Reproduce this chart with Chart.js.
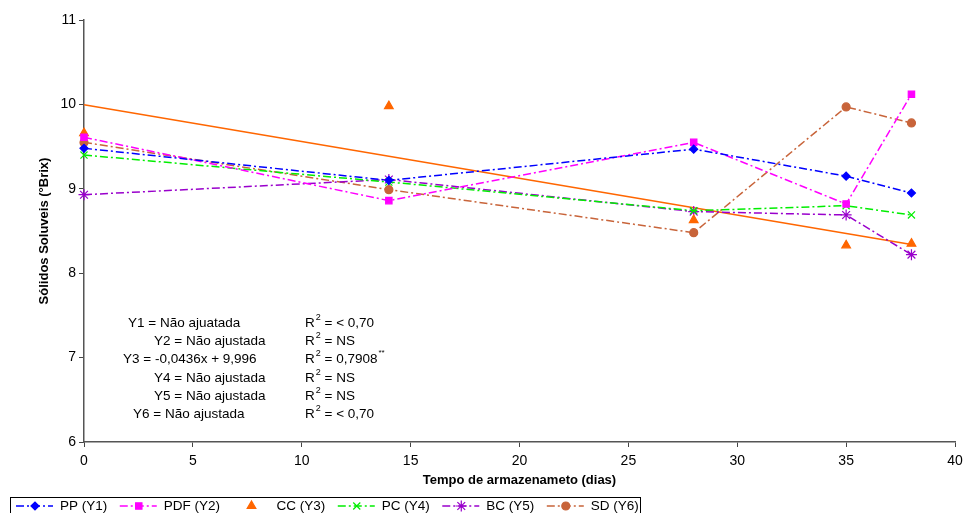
<!DOCTYPE html>
<html>
<head>
<meta charset="utf-8">
<script src="https://cdn.jsdelivr.net/npm/chart.js@4"></script>
<style>
  body { margin: 0; background: #fff; }
  #wrap { width: 963px; height: 513px; }
</style>
</head>
<body>
<div id="wrap"><canvas id="brixChart" width="963" height="513"></canvas></div>
<script>
// storage days and soluble solids (°Brix)
var days = [0, 14, 28, 35, 38];
var ppY1 = [9.48, 9.10, 9.47, 9.15, 8.95];
var pdfY2 = [9.61, 8.86, 9.55, 8.82, 10.12];
var ccY3 = [9.66, 9.98, 8.63, 8.33, 8.35];
var pcY4 = [9.40, 9.08, 8.74, 8.80, 8.69];
var bcY5 = [8.93, 9.11, 8.73, 8.69, 8.22];
var sdY6 = [9.55, 8.99, 8.48, 9.97, 9.78];
// fitted line for CC (Y3 = -0,0436x + 9,996)
var trendDays = [0, 38];
var trendY3 = [9.996, 8.339];

var seriesLabels = ['PP (Y1)', 'PDF (Y2)', 'CC (Y3)', 'PC (Y4)', 'BC (Y5)', 'SD (Y6)'];

var eqLeft = ['Y1 = Não ajuatada', 'Y2 = Não ajustada', 'Y3 = -0,0436x + 9,996',
              'Y4 = Não ajustada', 'Y5 = Não ajustada', 'Y6 = Não ajustada'];
var eqRight = [' = < 0,70', ' = NS', ' = 0,7908', ' = NS', ' = NS', ' = < 0,70'];
var eqStars = ['', '', '**', '', '', ''];

function pts(xs, ys) {
  return xs.map(function (x, i) { return { x: x, y: ys[i] }; });
}

var dashDot = [8, 3, 2, 3];

var series = [
  { label: seriesLabels[0], data: pts(days, ppY1), color: '#0000ff', style: 'rectRot', r: 4, line: true },
  { label: seriesLabels[1], data: pts(days, pdfY2), color: '#ff00ff', style: 'rect', r: 4.5, line: true },
  { label: seriesLabels[2], data: pts(days, ccY3), color: '#ff6600', style: 'triangle', r: 5, line: false },
  { label: seriesLabels[3], data: pts(days, pcY4), color: '#00ee00', style: 'crossRot', r: 5, line: true },
  { label: seriesLabels[4], data: pts(days, bcY5), color: '#9900cc', style: 'star', r: 5.5, line: true },
  { label: seriesLabels[5], data: pts(days, sdY6), color: '#c8643a', style: 'circle', r: 4, line: true }
];

var datasets = series.map(function (s) {
  return {
    label: s.label,
    data: s.data,
    showLine: s.line,
    clip: false,
    borderColor: s.color,
    backgroundColor: s.color,
    borderWidth: 1.5,
    borderDash: dashDot,
    pointStyle: s.style,
    pointRadius: s.r,
    pointHoverRadius: s.r,
    pointBorderWidth: 1.2,
    pointBorderColor: s.color,
    pointBackgroundColor: s.color
  };
});

datasets.push({
  label: 'trend',
  data: pts(trendDays, trendY3),
  showLine: true,
  clip: false,
  borderColor: '#ff6600',
  borderWidth: 1.5,
  pointRadius: 0,
  pointHoverRadius: 0
});

var notesPlugin = {
  id: 'notes',
  afterDraw: function (chart) {
    var ctx = chart.ctx;
    ctx.save();
    ctx.fillStyle = '#000';
    ctx.textBaseline = 'middle';
    ctx.textAlign = 'left';

    // equations block
    var leftX = [128, 154, 123, 154, 154, 133];
    var rowY = [323, 341, 359, 378, 396, 414];
    for (var i = 0; i < eqLeft.length; i++) {
      ctx.font = '13.5px "Liberation Sans", Arial, sans-serif';
      ctx.fillText(eqLeft[i], leftX[i], rowY[i]);
      var x = 305;
      ctx.fillText('R', x, rowY[i]);
      x += ctx.measureText('R').width + 1;
      ctx.font = '9px "Liberation Sans", Arial, sans-serif';
      ctx.fillText('2', x, rowY[i] - 5);
      x += ctx.measureText('2').width;
      ctx.font = '13.5px "Liberation Sans", Arial, sans-serif';
      ctx.fillText(eqRight[i], x, rowY[i]);
      if (eqStars[i]) {
        x += ctx.measureText(eqRight[i]).width + 1;
        ctx.font = '8px "Liberation Sans", Arial, sans-serif';
        ctx.fillText(eqStars[i], x, rowY[i] - 6);
      }
    }

    // legend box at the bottom
    var boxTop = 497;
    ctx.strokeStyle = '#000';
    ctx.lineWidth = 1;
    ctx.strokeRect(10.5, boxTop + 0.5, 630, 22);
    var ly = boxTop + 9;
    var lx = 16;
    ctx.font = '13.5px "Liberation Sans", Arial, sans-serif';
    series.forEach(function (s) {
      ctx.strokeStyle = s.color;
      ctx.fillStyle = s.color;
      if (s.line) {
        ctx.lineWidth = 1.5;
        ctx.setLineDash(dashDot);
        ctx.beginPath();
        ctx.moveTo(lx, ly);
        ctx.lineTo(lx + 37, ly);
        ctx.stroke();
        ctx.setLineDash([]);
      }
      ctx.lineWidth = 1.2;
      Chart.helpers.drawPoint(ctx, { pointStyle: s.style, radius: s.r, rotation: 0, borderWidth: 1.2 }, lx + 19, ly);
      ctx.fillStyle = '#000';
      var tx = lx + 44;
      ctx.fillText(s.label, tx, ly);
      lx = tx + ctx.measureText(s.label).width + 12.5;
    });
    ctx.restore();
  }
};

var ctx = document.getElementById('brixChart').getContext('2d');
var brixChart = new Chart(ctx, {
  type: 'scatter',
  data: { datasets: datasets },
  options: {
    responsive: false,
    animation: false,
    layout: { padding: { left: 0, right: 8, top: 20, bottom: 21 } },
    plugins: {
      legend: { display: false },
      tooltip: { enabled: false }
    },
    scales: {
      x: {
        type: 'linear',
        min: 0,
        max: 40,
        ticks: { stepSize: 5, color: '#000', padding: 6, font: { size: 14, family: '"Liberation Sans", Arial' } },
        grid: { drawOnChartArea: false, tickLength: 5, color: '#444' },
        border: { color: '#555', width: 1.5 },
        title: {
          display: true,
          text: 'Tempo de armazenameto (dias)',
          color: '#000',
          font: { size: 13, weight: 'bold', family: '"Liberation Sans", Arial' },
          padding: { top: 4, bottom: 4 }
        },
        afterFit: function (scale) {
          scale.height = 50;
          scale.paddingLeft = 0;
          scale.paddingRight = 0;
        }
      },
      y: {
        min: 6,
        max: 11,
        ticks: { stepSize: 1, color: '#000', padding: 3, font: { size: 14, family: '"Liberation Sans", Arial' } },
        grid: { drawOnChartArea: false, tickLength: 5, color: '#444' },
        border: { color: '#555', width: 1.5 },
        title: {
          display: true,
          text: 'Sólidos Soluveis (°Brix)',
          color: '#000',
          font: { size: 13, weight: 'bold', family: '"Liberation Sans", Arial' },
          padding: { top: 37, bottom: 0 }
        },
        afterFit: function (scale) { scale.width = 84; }
      }
    }
  },
  plugins: [notesPlugin]
});
</script>
</body>
</html>
